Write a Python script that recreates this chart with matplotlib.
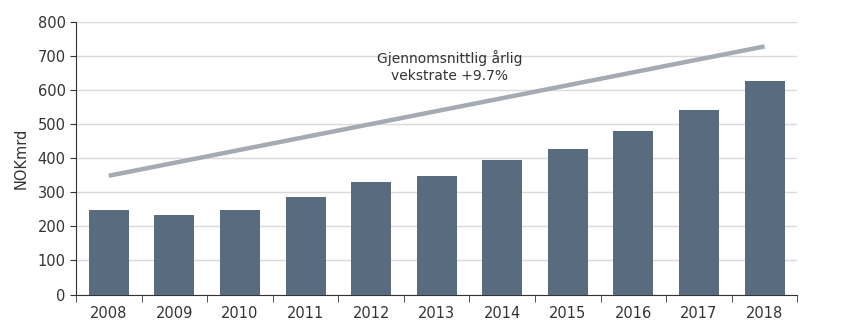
import matplotlib.pyplot as plt
import numpy as np

years = ['2008', '2009', '2010', '2011', '2012', '2013', '2014', '2015', '2016', '2017', '2018']
values = [248, 233, 248, 286, 330, 347, 394, 427, 479, 541, 626]
trend_start = 348
trend_end = 727

fig = plt.figure(figsize=(8.48, 3.33), dpi=100)
ax = fig.add_axes([0.0896, 0.1156, 0.8507, 0.8198])

x = np.arange(len(years))
ax.bar(x, values, width=0.61, color='#596b7f', zorder=3)
ax.plot([x[0], x[-1]], [trend_start, trend_end], color='#a4abb3', lw=3.2,
        solid_capstyle='butt', zorder=4)

ax.text(5.2, 668, 'Gjennomsnittlig årlig\nvekstrate +9.7%', ha='center', va='center',
        fontsize=10, color='#333333', linespacing=1.3, zorder=5)

ax.set_xlim(-0.5, len(years) - 0.5)
ax.set_ylim(0, 800)
ax.set_yticks(range(0, 801, 100))
ax.set_xticks(x)
ax.set_xticklabels(years)
ax.set_xticks(np.arange(-0.5, len(years), 1), minor=True)
ax.tick_params(axis='x', which='major', length=0, pad=8, labelsize=10.5, labelcolor='#333333')
ax.tick_params(axis='x', which='minor', length=5, direction='out', color='#333333')
ax.tick_params(axis='y', length=4, direction='out', labelsize=10.5, labelcolor='#333333', color='#333333')
ax.set_ylabel('NOKmrd', fontsize=10.5, color='#333333', labelpad=6)

ax.grid(axis='y', color='#dadada', lw=1, zorder=0)
for s in ['top', 'right']:
    ax.spines[s].set_visible(False)
for s in ['left', 'bottom']:
    ax.spines[s].set_color('#333333')

fig.savefig('out.png', dpi=100)
